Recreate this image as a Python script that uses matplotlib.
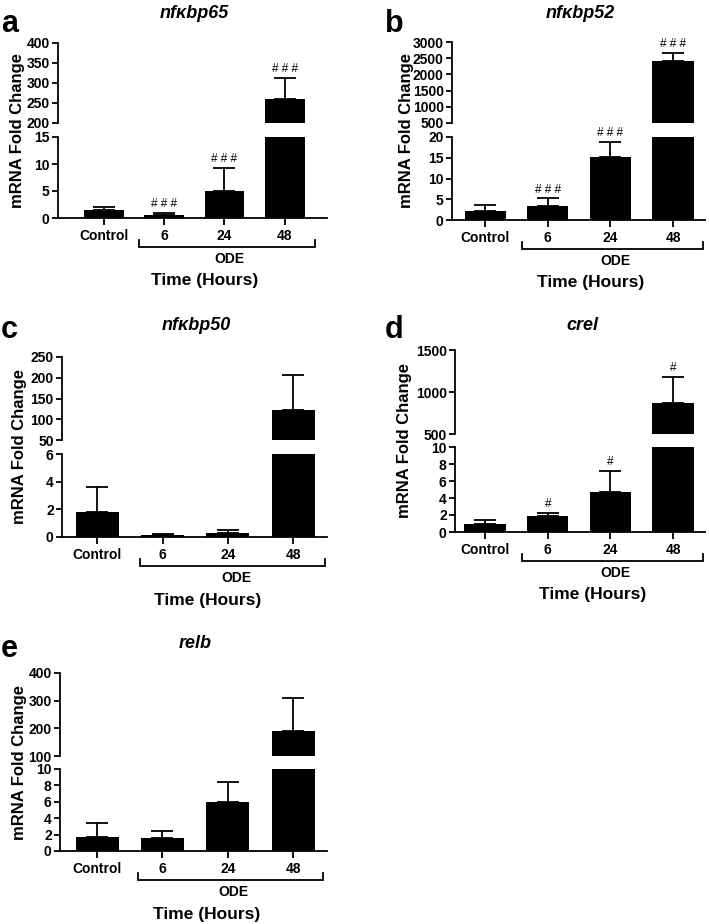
import matplotlib
matplotlib.use('Agg')
import matplotlib.pyplot as plt
from matplotlib.transforms import blended_transform_factory, offset_copy

plt.rcParams['font.family'] = ['Liberation Sans', 'DejaVu Sans']

# ---------------- data ----------------
categories = ['Control', '6', '24', '48']
group_label = 'ODE'
xlabel_text = 'Time (Hours)'
ylabel_text = 'mRNA Fold Change'
titles = ['nfκbp65', 'nfκbp52', 'nfκbp50', 'crel', 'relb']
letters = ['a', 'b', 'c', 'd', 'e']

mean_a = [1.4, 0.5, 4.95, 259]
sd_a = [0.6, 0.4, 4.35, 53]
sig_a = ['', '# # #', '# # #', '# # #']

mean_b = [2.25, 3.45, 15.2, 2420]
sd_b = [1.35, 1.75, 3.6, 245]
sig_b = ['', '# # #', '# # #', '# # #']

mean_c = [1.8, 0.12, 0.3, 123]
sd_c = [1.83, 0.08, 0.23, 84]
sig_c = ['', '', '', '']

mean_d = [1.0, 1.88, 4.75, 865]
sd_d = [0.4, 0.36, 2.45, 315]
sig_d = ['', '#', '#', '#']

mean_e = [1.7, 1.63, 5.92, 189]
sd_e = [1.68, 0.86, 2.45, 121]
sig_e = ['', '', '', '']

# broken-axis ranges and ticks (lower segment, upper segment)
low_ticks = [[0, 5, 10, 15], [0, 5, 10, 15, 20], [0, 2, 4, 6], [0, 2, 4, 6, 8, 10], [0, 2, 4, 6, 8, 10]]
high_ticks = [[200, 250, 300, 350, 400], [500, 1000, 1500, 2000, 2500, 3000],
              [50, 100, 150, 200, 250], [500, 1000, 1500], [100, 200, 300, 400]]

means = [mean_a, mean_b, mean_c, mean_d, mean_e]
sds = [sd_a, sd_b, sd_c, sd_d, sd_e]
sigs = [sig_a, sig_b, sig_c, sig_d, sig_e]

# ---------------- layout (pixels) ----------------
W, H = 709, 924
fig = plt.figure(figsize=(W / 100, H / 100), dpi=100)

# left, right, top_top, top_bottom, low_top, low_bottom, xlim, bracket range, ylabel offset
layout = [
    dict(l=58, r=327, t1=43, b1=123, t2=137, b2=218, xlim=(-0.76, 3.70), br=(0.58, 3.5), yl=40, ty=13, lx=1, ly=32),
    dict(l=452, r=705, t1=42, b1=123, t2=137, b2=220, xlim=(-0.53, 3.51), br=(0.59, 3.48), yl=45, ty=13, lx=385, ly=32),
    dict(l=62, r=327, t1=357, b1=440, t2=454, b2=537, xlim=(-0.54, 3.52), br=(0.66, 3.49), yl=42, ty=325, lx=1, ly=338),
    dict(l=455, r=705, t1=350, b1=434, t2=447, b2=532, xlim=(-0.48, 3.51), br=(0.59, 3.48), yl=50, ty=326, lx=385, ly=338),
    dict(l=60, r=327, t1=673, b1=756, t2=769, b2=851, xlim=(-0.57, 3.52), br=(0.62, 3.46), yl=40, ty=643, lx=1, ly=657),
]


def px_axes(l, t, r, b):
    return fig.add_axes([l / W, 1 - b / H, (r - l) / W, (b - t) / H])


LW = 1.3
tickfont = dict(fontsize=10, fontweight='bold')
x = list(range(len(categories)))

for i, L in enumerate(layout):
    ax_hi = px_axes(L['l'], L['t1'], L['r'], L['b1'])
    ax_lo = px_axes(L['l'], L['t2'], L['r'], L['b2'])
    m, s, sg = means[i], sds[i], sigs[i]
    for ax, ticks in ((ax_hi, high_ticks[i]), (ax_lo, low_ticks[i])):
        ax.bar(x, m, width=0.66, color='black', edgecolor='black', linewidth=0)
        ax.errorbar(x, m, yerr=[[0] * len(m), s], fmt='none', ecolor='black',
                    elinewidth=LW, capsize=8, capthick=LW)
        ax.set_ylim(ticks[0], ticks[-1])
        ax.set_yticks(ticks)
        ax.set_xlim(*L['xlim'])
        ax.set_yticklabels([str(t) for t in ticks], **tickfont)
        ax.tick_params(axis='y', direction='out', length=4.5, width=LW, pad=1.5)
        for sp in ('top', 'right'):
            ax.spines[sp].set_visible(False)
        ax.spines['left'].set_linewidth(LW)
        ax.set_facecolor('none')
        ax.patch.set_visible(False)

    ax_hi.spines['bottom'].set_visible(False)
    ax_hi.set_xticks([])
    ax_lo.spines['bottom'].set_linewidth(LW)
    ax_lo.set_xticks(x)
    ax_lo.set_xticklabels(categories, **tickfont)
    ax_lo.tick_params(axis='x', direction='out', length=5, width=LW, pad=3)

    # significance marks
    lo_top = low_ticks[i][-1]
    for xi, (mi, si, lab) in enumerate(zip(m, s, sg)):
        if not lab:
            continue
        ax = ax_hi if mi > lo_top else ax_lo
        ax.annotate(lab, (xi, mi + si), xytext=(0, 2), textcoords='offset points',
                    ha='center', va='bottom', fontsize=8.5, annotation_clip=False)

    # bracket for ODE group
    hpx = L['b2'] - L['t2']
    trans = blended_transform_factory(ax_lo.transData, ax_lo.transAxes)
    yb = -29 / hpx
    ye = -22 / hpx
    x0, x1 = L['br']
    ax_lo.plot([x0, x0, x1, x1], [ye, yb, yb, ye], color='black', lw=LW,
               transform=trans, clip_on=False, solid_joinstyle='miter')
    ax_lo.text((x0 + x1) / 2 + 0.05, -41 / hpx, group_label, transform=trans,
               ha='center', va='center', fontsize=10, fontweight='bold')
    ax_lo.text(0.5 * (L['xlim'][0] + L['xlim'][1]) + 0.2, -63 / hpx, xlabel_text, transform=trans,
               ha='center', va='center', fontsize=12.5, fontweight='bold')

    # y label
    yc = (L['t1'] + L['b2']) / 2
    fig.text((L['l'] - L['yl']) / W, 1 - yc / H, ylabel_text, rotation=90,
             ha='center', va='center', fontsize=12, fontweight='bold')

    # title and panel letter
    fig.text(((L['l'] + L['r']) / 2 + 2) / W, 1 - L['ty'] / H, titles[i], ha='center', va='center',
             fontsize=13, fontweight='bold', fontstyle='italic')
    fig.text(L['lx'] / W, 1 - L['ly'] / H, letters[i], ha='left', va='baseline',
             fontsize=22, fontweight='bold')

fig.savefig('out.png', dpi=100)
